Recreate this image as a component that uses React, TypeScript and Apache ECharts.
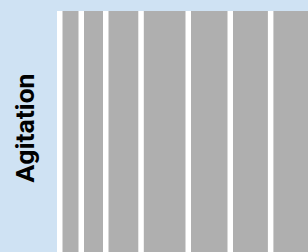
import React, { useEffect, useRef } from "react";
import * as echarts from "echarts";

const categories: string[] = ["Agitation"];
const segmentValues: number[] = [21.5, 24.5, 35.3, 47.2, 42, 40.4, 55];
const axisMax = 300;

export default function App() {
  const ref = useRef<HTMLDivElement>(null);
  useEffect(() => {
    if (!ref.current) return;
    const chart = echarts.init(ref.current, null, { renderer: "svg" });
    const data: number[][] = [];
    let acc = 0;
    for (const v of segmentValues) {
      data.push([acc, acc + v]);
      acc += v;
    }
    const gap = 5.5;
    chart.setOption({
      animation: false,
      backgroundColor: "#cfe2f3",
      grid: {
        left: 57,
        top: 11,
        width: 300,
        bottom: 0,
        outerBoundsMode: "none",
        containLabel: false,
        show: true,
        backgroundColor: "#ffffff",
        borderWidth: 0,
      },
      xAxis: {
        type: "value",
        min: 0,
        max: axisMax,
        show: false,
      },
      yAxis: {
        type: "category",
        data: categories,
        axisLine: { show: false },
        axisTick: { show: false },
        splitLine: { show: false },
        axisLabel: {
          rotate: 90,
          margin: 19,
          fontSize: 26.5,
          fontWeight: "bold",
          fontFamily: "Roboto",
          color: "#000000",
          padding: [0, 0, 0, 7],
        },
      },
      series: [
        {
          type: "custom",
          coordinateSystem: "cartesian2d",
          encode: { x: [0, 1], y: -1 },
          data,
          renderItem: (params: any, api: any) => {
            const p0 = api.coord([api.value(0), 0]);
            const p1 = api.coord([api.value(1), 0]);
            const cs = params.coordSys;
            return {
              type: "rect",
              shape: {
                x: p0[0] + gap,
                y: cs.y,
                width: p1[0] - p0[0] - gap,
                height: cs.height,
              },
              style: { fill: "#afafaf" },
            };
          },
        },
      ],
    });
    return () => chart.dispose();
  }, []);
  return (
    <div
      ref={ref}
      style={{ position: "fixed", left: 0, top: 0, width: 308, height: 252 }}
    />
  );
}
